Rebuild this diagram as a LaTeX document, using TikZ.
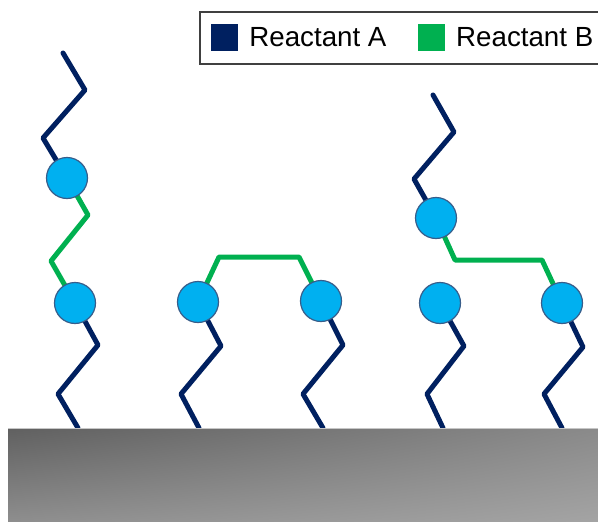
\documentclass[tikz,border=0pt]{standalone}
\usepackage{fontspec}
\setmainfont{Liberation Sans}
\definecolor{acol}{RGB}{0,32,96}
\definecolor{bcol}{RGB}{0,176,80}
\definecolor{sitecol}{RGB}{0,176,240}
\definecolor{siteedge}{RGB}{56,93,138}
\definecolor{framecol}{RGB}{64,64,64}
\definecolor{surfUL}{RGB}{96,96,96}
\definecolor{surfUR}{RGB}{138,138,138}
\definecolor{surfLL}{RGB}{142,142,142}
\definecolor{surfLR}{RGB}{164,164,164}
\usetikzlibrary{positioning, backgrounds, shadings}

\begin{document}
\begin{tikzpicture}[x=1pt, y=-1pt,
  site/.style={circle, draw=siteedge, fill=sitecol, line width=1.2pt, minimum size=41pt, inner sep=0pt},
  chainA/.style={draw=acol, line width=5pt, line cap=round, line join=round},
  chainB/.style={draw=bcol, line width=5pt, line cap=round, line join=round},
  keybox/.style={minimum size=27pt, inner sep=0pt}]
\useasboundingbox (0,0) rectangle (598,522);

% binding sites
\node[site] (s1) at (75,303) {};
\node[site] (s2) at (67,178) {};
\node[site] (s3) at (198,302) {};
\node[site] (s4) at (321,301) {};
\node[site] (s5) at (440,303) {};
\node[site] (s6) at (562,303) {};
\node[site] (s7) at (436,218) {};

% surface anchors and free ends
\coordinate (g1) at (78,428);
\coordinate (g2) at (199,428);
\coordinate (g3) at (323,428);
\coordinate (g4) at (443,428);
\coordinate (g5) at (562,428);
\coordinate (e1) at (63,53);
\coordinate (e2) at (433,95);

\begin{pgfonlayer}{background}
% chains
\draw[chainA] (g1) -- (58,394) -- (98,345) -- (s1.center);
\draw[chainB] (s1.center) -- (51,261) -- (88,215) -- (s2.center);
\draw[chainA] (s2.center) -- (43,138) -- (85,90) -- (e1);

\draw[chainA] (g2) -- (181,394) -- (221,346) -- (s3.center);
\draw[chainA] (g3) -- (303,394) -- (343,345) -- (s4.center);
\draw[chainB] (s3.center) -- (219,257) -- (299,257) -- (s4.center);

\draw[chainA] (g4) -- (427,394) -- (464,346) -- (s5.center);
\draw[chainA] (g5) -- (544,394) -- (583,347) -- (s6.center);
\draw[chainB] (s7.center) -- (455,260) -- (542,260) -- (s6.center);
\draw[chainA] (s7.center) -- (414,179) -- (454,132) -- (e2);

% surface
\shade[upper left=surfUL, upper right=surfUR, lower left=surfLL, lower right=surfLR]
  (8,428) rectangle (598,522);
\draw[gray!45, line width=1pt] (8,428) -- (598,428);
\end{pgfonlayer}

% legend
\node[draw=framecol, line width=1.5pt, fill=white, minimum width=420pt, minimum height=52pt, anchor=north west] (legend) at (199,11) {};
\node[keybox, fill=acol] (keyA) at (224.5,37) {};
\node[right=11pt of keyA, inner sep=0pt, font=\fontsize{27.7}{30}\selectfont] (labA) {Reactant A};
\node[keybox, fill=bcol, right=31pt of labA] (keyB) {};
\node[right=11pt of keyB, inner sep=0pt, font=\fontsize{27.7}{30}\selectfont] (labB) {Reactant B};
\end{tikzpicture}
\end{document}
